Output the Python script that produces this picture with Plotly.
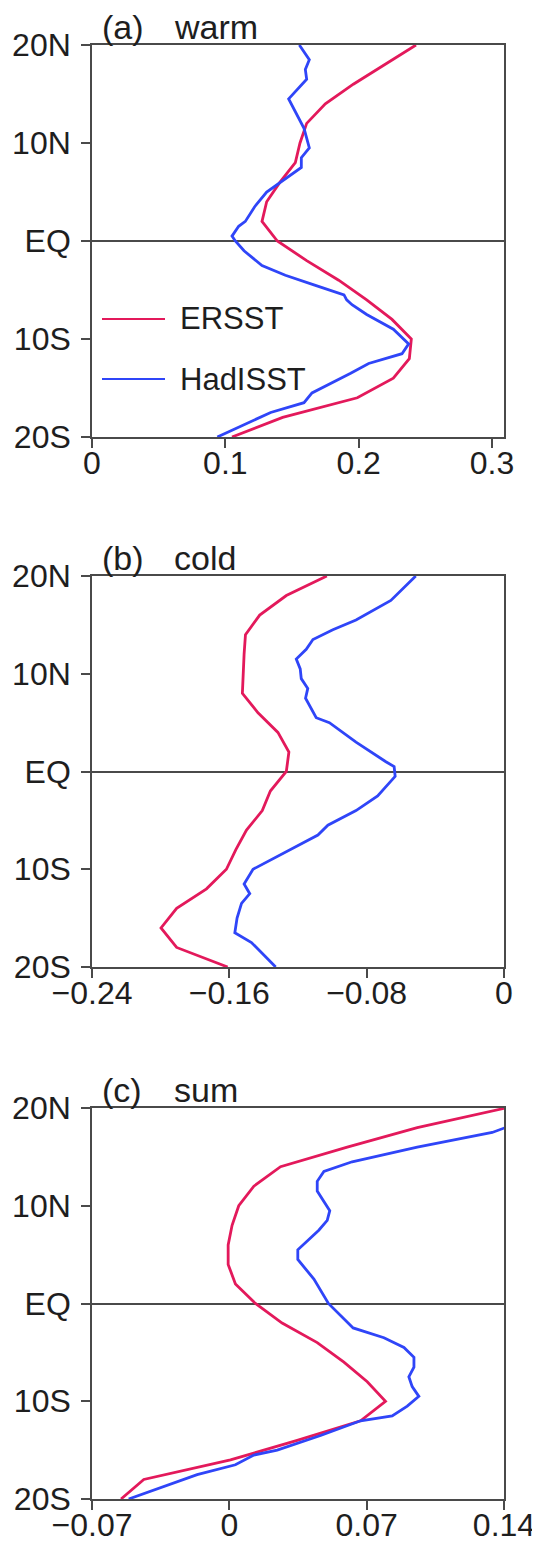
import plotly.graph_objects as go

# ---------------- data ----------------
lat_er = [20, 18, 16, 14, 12, 10, 8, 6, 4, 2, 0, -2, -4, -6, -8, -10, -12, -14, -16, -18, -20]

# (a) warm
warm_er = [0.243, 0.219, 0.196, 0.175, 0.161, 0.156, 0.1525, 0.141, 0.131, 0.1275, 0.139,
           0.161, 0.185, 0.206, 0.225, 0.2395, 0.238, 0.226, 0.199, 0.143, 0.105]
warm_had_lat = [20, 18.5, 17.5, 16.5, 14.5, 11.5, 9.5, 8.5, 7.5, 6, 5, 3.5, 2, 1.5, 0.5, 0,
                -1, -2.5, -3.5, -4.5, -5.5, -6, -6.5, -7.5, -9, -10.5, -11.5, -12.5, -13.5,
                -15.5, -16.5, -17.5, -20]
warm_had = [0.1555, 0.163, 0.160, 0.161, 0.1475, 0.159, 0.163, 0.157, 0.157, 0.141, 0.131,
            0.122, 0.115, 0.110, 0.105, 0.1075, 0.114, 0.1275, 0.145, 0.167, 0.189, 0.191,
            0.195, 0.206, 0.226, 0.2375, 0.2325, 0.2075, 0.194, 0.165, 0.159, 0.134, 0.094]

# (b) cold
cold_er = [-0.1032, -0.1268, -0.1423, -0.1506, -0.1514, -0.152, -0.1524, -0.1433, -0.1317,
           -0.1253, -0.1268, -0.1361, -0.1408, -0.150, -0.1562, -0.1617, -0.1733, -0.1907,
           -0.1998, -0.1907, -0.161]
cold_had_lat = [20, 17.5, 15.5, 14.5, 13.5, 12.5, 11.5, 10.5, 9.5, 8.5, 7.5, 5.5, 5, 3, 1,
                0.5, -0.5, -2.5, -4, -5, -5.5, -6.5, -8.5, -10, -11.5, -12.5, -13.5, -15,
                -16.5, -17.5, -20]
cold_had = [-0.0514, -0.0659, -0.0862, -0.0997, -0.1113, -0.1152, -0.121, -0.1187, -0.1181,
            -0.1143, -0.1156, -0.1094, -0.1017, -0.0862, -0.0688, -0.064, -0.0634, -0.0736,
            -0.0862, -0.0978, -0.1026, -0.1084, -0.1297, -0.1462, -0.1514, -0.1481, -0.1529,
            -0.1555, -0.1568, -0.1471, -0.133]

# (c) sum
sum_er = [0.141, 0.0958, 0.0601, 0.0261, 0.0125, 0.0048, 0.0014, -0.0006, -0.0006, 0.0031,
          0.0133, 0.0269, 0.0448, 0.0584, 0.0703, 0.0796, 0.0669, 0.0346, 0.0006, -0.0436,
          -0.0552]
sum_had_lat = [18, 17.5, 16, 14.5, 13.5, 12.5, 11.5, 9.5, 8.5, 7.5, 5.5, 4.5, 2.5, 0, -2.5,
               -3.5, -4.5, -5.5, -6.5, -7.5, -8.5, -9.5, -10.5, -11.5, -12, -13.5, -15,
               -15.5, -16.5, -17.5, -20]
sum_had = [0.1408, 0.134, 0.0958, 0.0626, 0.0482, 0.0448, 0.0448, 0.0512, 0.0499, 0.0456,
           0.0349, 0.0349, 0.0431, 0.0505, 0.0631, 0.0788, 0.089, 0.0941, 0.0941, 0.0915,
           0.0932, 0.0966, 0.0907, 0.083, 0.0669, 0.0465, 0.0244, 0.0125, 0.0031, -0.0164,
           -0.0513]

panel_titles = ["(a)", "(b)", "(c)"]
panel_names = ["warm", "cold", "sum"]
x_ranges = [[0, 0.309], [-0.24, 0], [-0.07, 0.14]]
x_tickvals = [[0, 0.1, 0.2, 0.3], [-0.24, -0.16, -0.08, 0], [-0.07, 0, 0.07, 0.14]]
x_ticktext = [["0", "0.1", "0.2", "0.3"], ["\u22120.24", "\u22120.16", "\u22120.08", "0"],
              ["\u22120.07", "0", "0.07", "0.14"]]
y_tickvals = [-20, -10, 0, 10, 20]
y_ticktext = ["20S", "10S", "EQ", "10N", "20N"]
series_names = ["ERSST", "HadISST"]

RED = "#E3195B"
BLUE = "#2F45F8"
FRAME = "#4a4a4a"
TXT = "#1e1e1e"
TICKFONT = "Liberation Sans, Arial, sans-serif"
TXTFONT = "Liberation Sans, Arial, sans-serif"

# the page body adds an 8px margin; the figure is sized to fill the rest of the window
OFF = 8
W, H = 540 - OFF, 1542 - OFF
def py(p):  # window pixel y -> paper
    return 1 - (p - OFF) / H
def px(p):
    return (p - OFF) / W

x_dom = [px(92), px(504)]
y_doms = [[py(437), py(45)], [py(967), py(576)], [py(1499), py(1108)]]

fig = go.Figure()
panels = [(lat_er, warm_er, warm_had_lat, warm_had),
          (lat_er, cold_er, cold_had_lat, cold_had),
          (lat_er, sum_er, sum_had_lat, sum_had)]

for i, (le, ve, lh, vh) in enumerate(panels):
    suffix = "" if i == 0 else str(i + 1)
    fig.add_trace(go.Scatter(x=ve, y=le, mode="lines", name=series_names[0],
                             line=dict(color=RED, width=2.8), showlegend=False,
                             xaxis="x" + suffix, yaxis="y" + suffix))
    fig.add_trace(go.Scatter(x=vh, y=lh, mode="lines", name=series_names[1],
                             line=dict(color=BLUE, width=2.8), showlegend=False,
                             xaxis="x" + suffix, yaxis="y" + suffix))
    common = dict(showgrid=False, showline=True, mirror=True, linecolor=FRAME, linewidth=1.6,
                  ticks="outside", ticklen=9, tickwidth=1.6, tickcolor=FRAME, automargin=False,
                  tickfont=dict(family=TICKFONT, size=32, color=TXT))
    fig.layout["xaxis" + suffix] = dict(domain=x_dom, range=x_ranges[i], tickvals=x_tickvals[i],
                                        ticktext=x_ticktext[i], zeroline=False,
                                        anchor="y" + suffix, ticklabelstandoff=-12, **common)
    fig.layout["yaxis" + suffix] = dict(domain=y_doms[i], range=[-20, 20], tickvals=y_tickvals,
                                        ticktext=y_ticktext, zeroline=True, zerolinecolor=FRAME,
                                        zerolinewidth=1.6, anchor="x" + suffix,
                                        ticklabelstandoff=4, **common)

# panel titles
title_y = [27, 558, 1090]
for i in range(3):
    fig.add_annotation(x=px(100), y=py(title_y[i]), xref="paper", yref="paper",
                       text=panel_titles[i], showarrow=False, xanchor="left", yanchor="middle",
                       font=dict(family=TXTFONT, size=34, color=TXT))
    fig.add_annotation(x=px(172), y=py(title_y[i]), xref="paper", yref="paper",
                       text=panel_names[i], showarrow=False, xanchor="left", yanchor="middle",
                       font=dict(family=TXTFONT, size=34, color=TXT))

# legend (panel a)
leg_y = [319, 379]
leg_col = [RED, BLUE]
for k in range(2):
    fig.add_shape(type="line", xref="paper", yref="paper", x0=px(102), x1=px(165),
                  y0=py(leg_y[k]), y1=py(leg_y[k]), line=dict(color=leg_col[k], width=1.8))
    fig.add_annotation(x=px(178), y=py(leg_y[k]), xref="paper", yref="paper",
                       text=series_names[k], showarrow=False, xanchor="left", yanchor="middle",
                       font=dict(family=TXTFONT, size=31, color=TXT))

fig.update_layout(width=W, height=H, margin=dict(l=0, r=0, t=0, b=0),
                  paper_bgcolor="white", plot_bgcolor="white", showlegend=False)

fig.write_html("out.html")
